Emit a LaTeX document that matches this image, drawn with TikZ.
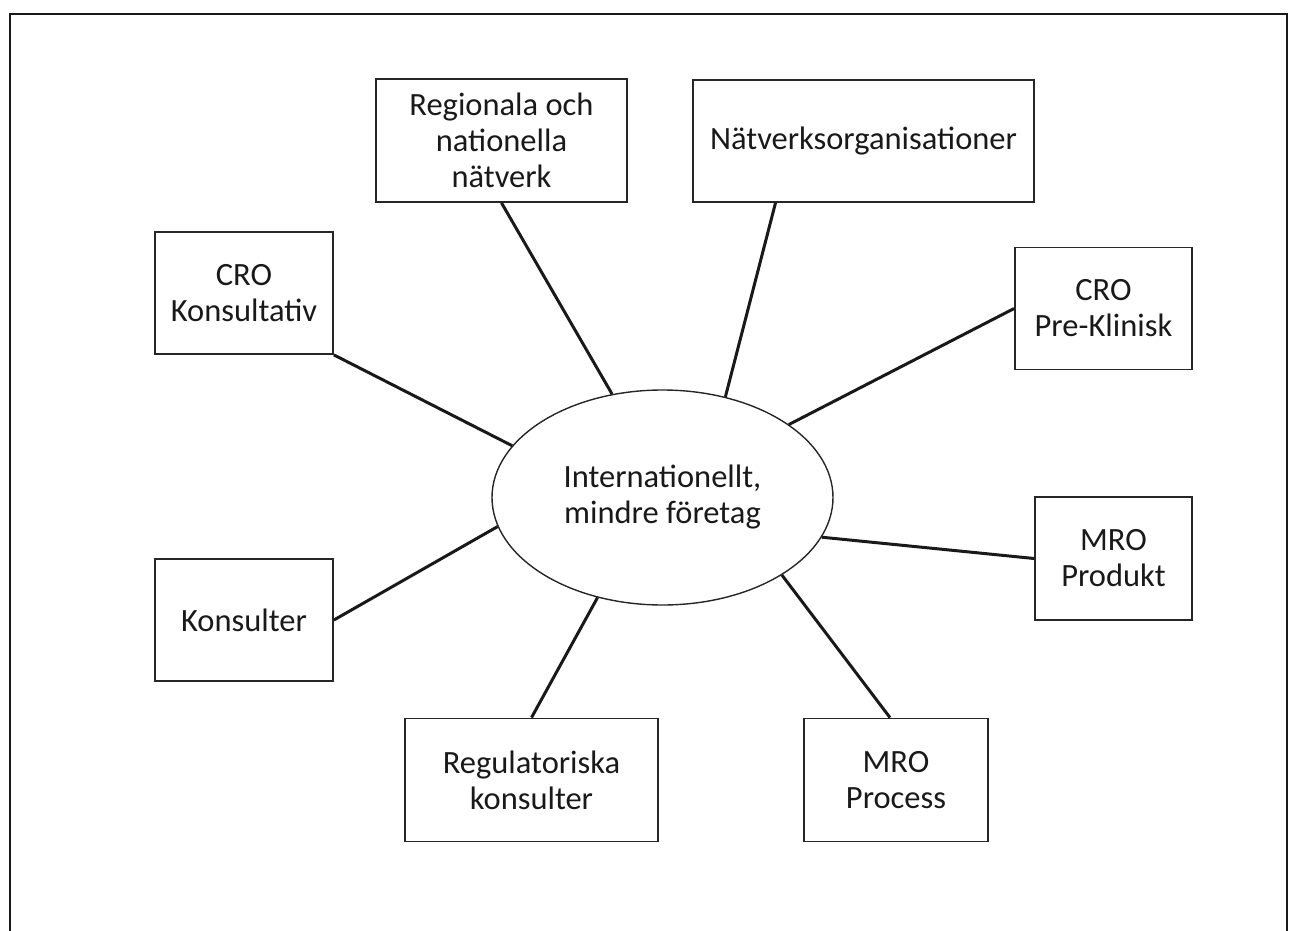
\documentclass[tikz,border=0pt]{standalone}
\usepackage{fontspec}
\setmainfont{Carlito}
\usetikzlibrary{shapes.geometric,calc}
\begin{document}
\begin{tikzpicture}[x=1pt,y=-1pt,
  box/.style={draw=black!85,line width=1.8pt,rectangle,inner sep=0pt,align=center,
    font=\fontsize{32.5}{36}\selectfont,text=black!90},
  hub/.style={draw=black!85,line width=1.4pt,ellipse,inner sep=0pt,minimum width=341pt,minimum height=215pt,
    align=center,font=\fontsize{32.5}{36}\selectfont,text=black!90},
  link/.style={line width=3pt,black!90}]
\useasboundingbox (0,0) rectangle (1301,931);
\draw[line width=2pt,black!90] (10,931) -- (10,14) -- (1287,14) -- (1287,931);

\node[hub] (c) at (662.5,497.5) {Internationellt,\\mindre företag};

\node[box,minimum width=251pt,minimum height=123pt] (reg) at (501.5,140.5) {Regionala och\\nationella\\nätverk};
\node[box,minimum width=341pt,minimum height=122pt] (nat) at (863.5,141) {Nätverksorganisationer};
\node[box,minimum width=178pt,minimum height=122pt] (crok) at (244,293) {CRO\\Konsultativ};
\node[box,minimum width=177pt,minimum height=122pt] (crop) at (1103.5,308.5) {CRO\\Pre-Klinisk};
\node[box,minimum width=157pt,minimum height=123pt] (mrop) at (1113.5,558.5) {MRO\\Produkt};
\node[box,minimum width=178pt,minimum height=122pt] (kons) at (244,620) {Konsulter};
\node[box,minimum width=253pt,minimum height=123pt] (regk) at (531.5,780) {Regulatoriska\\konsulter};
\node[box,minimum width=184pt,minimum height=123pt] (proc) at (896,780) {MRO\\Process};

\draw[link] (reg.south) -- (c.116.7);
\draw[link] ([xshift=-88pt]nat.south) -- (c.58.3);
\draw[link] (crok.south east) -- (c.161.4);
\draw[link] (crop.west) -- (c.30.6);
\draw[link] (mrop.west) -- (c.-14.2);
\draw[link] ([xshift=-6pt]proc.north) -- (c.-33);
\draw[link] (regk.north) -- (c.237.8);
\draw[link] (kons.east) -- (c.190.7);
\end{tikzpicture}
\end{document}
